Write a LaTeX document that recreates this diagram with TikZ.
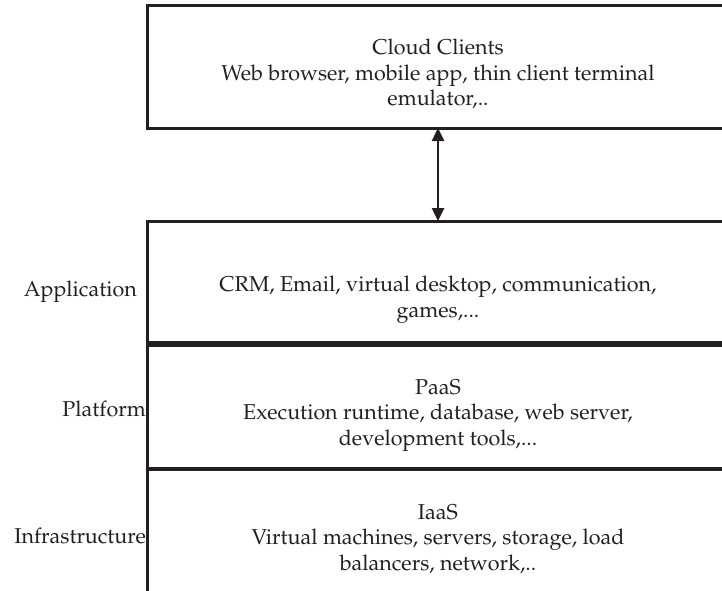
\documentclass[tikz,border=0pt]{standalone}
\usepackage[T1]{fontenc}
\usepackage{mathpazo}
\usepackage{xcolor}
\usetikzlibrary{arrows.meta}

\definecolor{inkline}{HTML}{231F20}
\tikzset{
  layerbox/.style={draw=inkline,line width=3pt,inner sep=0pt,outer sep=0pt,minimum width=582pt},
  boxtext/.style={align=center,inner sep=0pt,text=inkline,font=\fontsize{21.5}{25.5}\selectfont},
  sidelabel/.style={anchor=east,inner sep=0pt,text=inkline,font=\fontsize{21.5}{25.5}\selectfont},
}

\begin{document}
\begin{tikzpicture}[x=1pt,y=-1pt,>={Triangle[length=13pt,width=12pt]}]
  \useasboundingbox (0,0) rectangle (722,590);
  \clip (0,0) rectangle (722,590);
  % client side
  \node[layerbox,minimum height=123pt] (cloud) at (438,66.5) {};
  \node[boxtext] (cloudtxt) at (438,74)
    {Cloud Clients\\Web browser, mobile app, thin client terminal\\emulator,..};
  % service stack
  \node[layerbox,minimum height=123pt] (app) at (438,282.5) {};
  \node[layerbox,minimum height=125pt] (plat) at (438,406.5) {};
  \node[layerbox,minimum height=131pt] (infra) at (438,534.5) {};
  \draw[inkline,line width=5.5pt] (app.south west) -- (app.south east);
  \draw[inkline,line width=3.5pt] (plat.south west) -- (plat.south east);
  \node[boxtext] (apptxt) at (438,299.5)
    {CRM, Email, virtual desktop, communication,\\games,...};
  \node[boxtext] (plattxt) at (438,415.5)
    {PaaS\\Execution runtime, database, web server,\\development tools,...};
  \node[boxtext] (infratxt) at (438,539)
    {IaaS\\Virtual machines, servers, storage, load\\balancers, network,..};
  \node[sidelabel] (applbl) at (137,292) {Application};
  \node[sidelabel] (platlbl) at (146,409) {Platform};
  \node[sidelabel] (infralbl) at (146,536) {Infrastructure};
  \draw[inkline,line width=2.5pt,<->] (cloud.south) -- (app.north);
\end{tikzpicture}
\end{document}
